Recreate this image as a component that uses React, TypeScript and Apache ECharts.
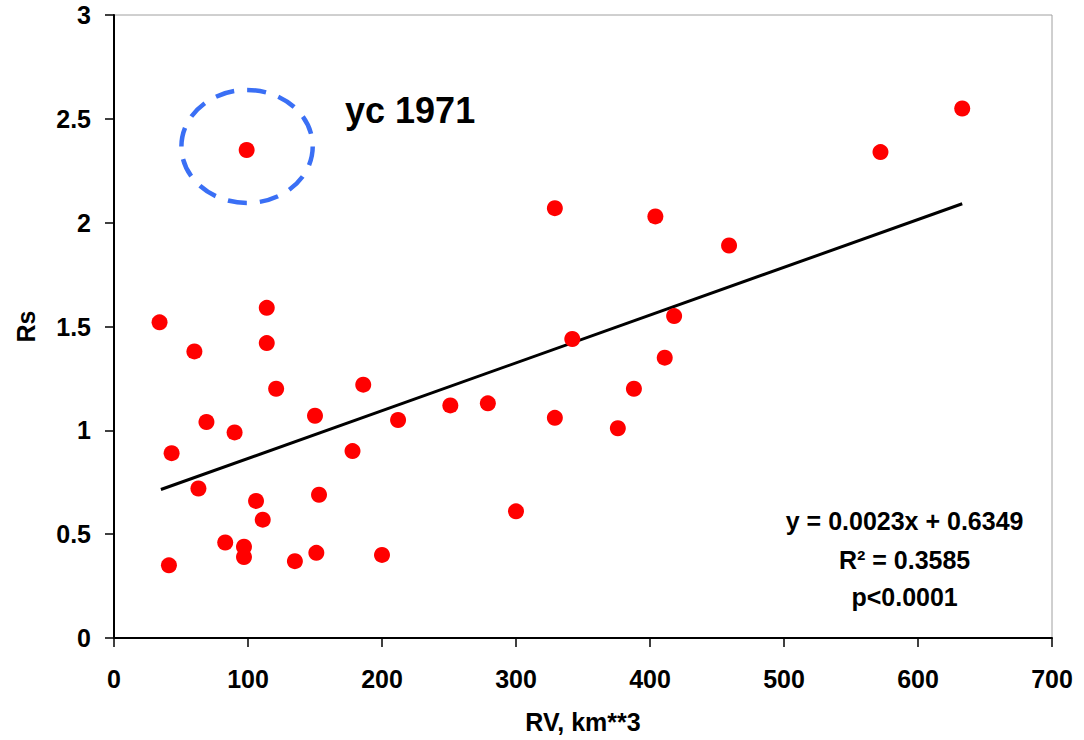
import React, { useEffect, useRef } from "react";
import * as echarts from "echarts";

// RV (km**3) and Rs values
const rvValues = [34, 43, 41, 60, 63, 69, 83, 90, 97, 97, 99, 106, 111, 114, 114, 121, 135, 150, 151, 153, 178, 186, 200, 212, 251, 279, 300, 329, 329, 342, 376, 388, 404, 411, 418, 459, 572, 633];
const rsValues = [1.52, 0.89, 0.35, 1.38, 0.72, 1.04, 0.46, 0.99, 0.44, 0.39, 2.35, 0.66, 0.57, 1.59, 1.42, 1.2, 0.37, 1.07, 0.41, 0.69, 0.9, 1.22, 0.4, 1.05, 1.12, 1.13, 0.61, 2.07, 1.06, 1.44, 1.01, 1.2, 2.03, 1.35, 1.55, 1.89, 2.34, 2.55];

// linear trend line endpoints (y = 0.0023x + 0.6349)
const trendX = [35, 633];
const trendY = [0.715, 2.091];

const xAxisName = "RV, km**3";
const yAxisName = "Rs";
const outlierLabel = "yc 1971";
const outlierCenter = [99.3, 2.367];
const outlierRadius = [49, 0.272];
const outlierLabelPos = [172.4, 2.538];
const equationLines = ["y = 0.0023x + 0.6349", "R² = 0.3585", "p<0.0001"];
const equationX = 590;
const equationYs = [0.563, 0.376, 0.197];

export default function App() {
  const ref = useRef<HTMLDivElement>(null);
  useEffect(() => {
    const chart = echarts.init(ref.current!, null, { renderer: "svg" });
    const font = "Liberation Sans, Arial, sans-serif";
    chart.setOption({
      animation: false,
      backgroundColor: "#ffffff",
      grid: {
        left: 114,
        right: 32,
        top: 15,
        bottom: 102,
        show: true,
        borderColor: "#a0a0a0",
        borderWidth: 1,
      },
      xAxis: {
        type: "value",
        min: 0,
        max: 700,
        interval: 100,
        name: xAxisName,
        nameLocation: "middle",
        nameGap: 71,
        nameTextStyle: { fontFamily: font, fontWeight: "bold", fontSize: 25, color: "#000" },
        axisLine: { show: true, onZero: false, lineStyle: { color: "#000", width: 2 } },
        axisTick: { show: true, inside: false, length: 9, lineStyle: { color: "#000", width: 1.5 } },
        axisLabel: { fontFamily: font, fontWeight: "bold", fontSize: 25, color: "#000", margin: 28 },
        splitLine: { show: false },
      },
      yAxis: {
        type: "value",
        min: 0,
        max: 3,
        interval: 0.5,
        name: yAxisName,
        nameLocation: "middle",
        nameGap: 76,
        nameTextStyle: { fontFamily: font, fontWeight: "bold", fontSize: 25, color: "#000" },
        axisLine: { show: true, onZero: false, lineStyle: { color: "#000", width: 2 } },
        axisTick: { show: true, inside: false, length: 9, lineStyle: { color: "#000", width: 1.5 } },
        axisLabel: { fontFamily: font, fontWeight: "bold", fontSize: 25, color: "#000", margin: 23 },
        splitLine: { show: false },
      },
      series: [
        {
          type: "line",
          data: trendX.map((x, i) => [x, trendY[i]]),
          symbol: "none",
          lineStyle: { color: "#000", width: 3 },
          z: 2,
        },
        {
          type: "scatter",
          data: rvValues.map((x, i) => [x, rsValues[i]]),
          symbol: "circle",
          symbolSize: 16,
          itemStyle: { color: "#ff0000", opacity: 1 },
          z: 3,
        },
      ],
    });

    const px = (v: number[]) => chart.convertToPixel({ gridIndex: 0 }, v) as number[];
    const c = px(outlierCenter);
    const edge = px([outlierCenter[0] + outlierRadius[0], outlierCenter[1] + outlierRadius[1]]);
    const rx = Math.abs(edge[0] - c[0]);
    const ry = Math.abs(edge[1] - c[1]);
    const lbl = px(outlierLabelPos);
    const graphic: any[] = [
      {
        type: "ellipse",
        shape: { cx: c[0], cy: c[1], rx, ry },
        style: { fill: "none", stroke: "#3a6ff5", lineWidth: 4.5, lineDash: [19, 13] },
        z: 10,
      },
      {
        type: "text",
        x: lbl[0],
        y: lbl[1],
        style: {
          text: outlierLabel,
          fontFamily: font,
          fontWeight: "bold",
          fontSize: 36,
          fill: "#000",
          textAlign: "left",
          textVerticalAlign: "middle",
        },
        z: 10,
      },
    ];
    equationLines.forEach((t, i) => {
      const p = px([equationX, equationYs[i]]);
      graphic.push({
        type: "text",
        x: p[0],
        y: p[1],
        style: {
          text: t,
          fontFamily: font,
          fontWeight: "bold",
          fontSize: 25,
          fill: "#000",
          textAlign: "center",
          textVerticalAlign: "middle",
        },
        z: 10,
      });
    });
    chart.setOption({ graphic });
    return () => chart.dispose();
  }, []);
  return (
    <div
      ref={ref}
      style={{ position: "fixed", left: 0, top: 0, width: 1084, height: 740 }}
    />
  );
}
